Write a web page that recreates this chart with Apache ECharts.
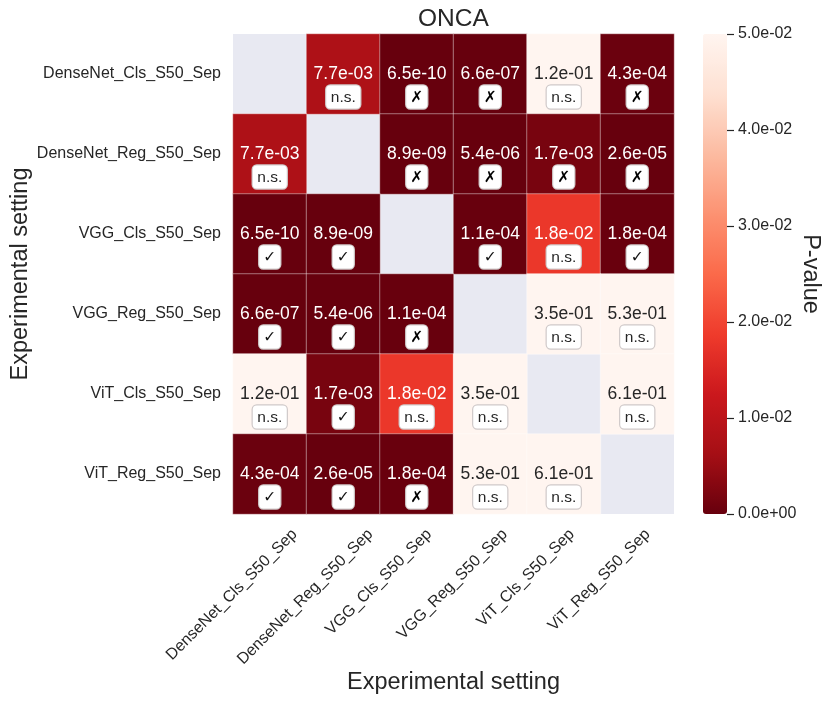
<!DOCTYPE html>
<html><head><meta charset="utf-8">
<style>html,body{margin:0;padding:0;background:#fff}#c{width:830px;height:703px}</style>
<script src="https://cdn.jsdelivr.net/npm/echarts@6/dist/echarts.min.js"></script>
</head><body><div id="c"></div>
<script>
const settings = ['DenseNet_Cls_S50_Sep','DenseNet_Reg_S50_Sep','VGG_Cls_S50_Sep','VGG_Reg_S50_Sep','ViT_Cls_S50_Sep','ViT_Reg_S50_Sep'];
const pValues = [
  [null,7.7e-3,6.5e-10,6.6e-7,1.2e-1,4.3e-4],
  [7.7e-3,null,8.9e-9,5.4e-6,1.7e-3,2.6e-5],
  [6.5e-10,8.9e-9,null,1.1e-4,1.8e-2,1.8e-4],
  [6.6e-7,5.4e-6,1.1e-4,null,3.5e-1,5.3e-1],
  [1.2e-1,1.7e-3,1.8e-2,3.5e-1,null,6.1e-1],
  [4.3e-4,2.6e-5,1.8e-4,5.3e-1,6.1e-1,null]
];
const verdicts = [
  ['','n.s.','✗','✗','n.s.','✗'],
  ['n.s.','','✗','✗','✗','✗'],
  ['✓','✓','','✓','n.s.','✓'],
  ['✓','✓','✗','','n.s.','n.s.'],
  ['n.s.','✓','n.s.','n.s.','','n.s.'],
  ['✓','✓','✗','n.s.','n.s.','']
];
const reds = ['#67000d','#a50f15','#cb181d','#ef3b2c','#fb6a4a','#fc9272','#fcbba1','#fee0d2','#fff5f0'];
const ink = '#262626', font = '"Liberation Sans", Arial, sans-serif';
const fmt = v => { const [m,e] = v.toExponential(1).split('e'); return m+'e'+e[0]+e.slice(1).padStart(2,'0'); };
const badge = {backgroundColor:'#fff',borderColor:'#cfc9c9',borderWidth:1.2,borderRadius:4,fontSize:15.5,color:ink,align:'center'};
const data = [];
pValues.forEach((row,r)=>row.forEach((v,c)=>{
  if(v===null) return;
  const col = v>0.025 ? ink : '#fff';
  const sym = verdicts[r][c]==='n.s.' ? 'ns' : (verdicts[r][c]==='✗' ? 'cross' : 'check');
  data.push({value:[c,r,v],label:{formatter:`{v|${fmt(v)}}\n{${sym}|${verdicts[r][c]}}`,offset:[0,12],rich:{
    v:{fontSize:17.5,color:col,fontFamily:font,lineHeight:22,align:'center'},
    ns:{...badge,fontFamily:font,padding:[4,4,3,4],width:26,height:16},
    check:{...badge,color:'#111',fontFamily:'"DejaVu Sans"',padding:[4,3,3,3],width:15,height:16},
    cross:{...badge,color:'#000',fontWeight:'bold',fontFamily:'"DejaVu Sans"',padding:[4,3,3,3],width:15,height:16}
  }}});
}));
// The rotated tick labels are centred on a point left of each cell and share a common top edge.
const ctx = document.createElement('canvas').getContext('2d');
ctx.font = '16px "Liberation Sans"';
const xLabelItems = settings.map(s=>{
  const ox = -38 + 0.354*(ctx.measureText(s).width+9);
  const a = (ox-2.5)/1.414;
  return {value:s,textStyle:{verticalAlign:'top',padding:[a-9,-a,0,0]}};
});
const chart = echarts.init(document.getElementById('c'),null,{renderer:'canvas'});
chart.setOption({
  animation:false,backgroundColor:'#fff',
  title:{text:'ONCA',left:413,top:2,textStyle:{fontFamily:font,fontSize:24.5,fontWeight:'normal',color:ink}},
  grid:[
    {left:233,top:34,width:441,height:480,show:true,backgroundColor:'#e8e9f2',borderWidth:0,outerBoundsMode:'none'},
    {left:703,top:34,width:24,height:480,show:false,outerBoundsMode:'none'}
  ],
  xAxis:[
    {type:'category',gridIndex:0,data:xLabelItems,axisLine:{show:false},axisTick:{show:false},splitLine:{show:false},
     name:'Experimental setting',nameLocation:'middle',nameGap:157,nameMoveOverlap:false,nameTextStyle:{fontFamily:font,fontSize:23.5,color:ink},
     axisLabel:{rotate:45,interval:0,hideOverlap:false,align:'right',verticalAlign:'middle',margin:18.5,fontFamily:font,fontSize:16,color:ink}},
    {type:'value',gridIndex:1,show:false,min:0,max:1}
  ],
  yAxis:[
    {type:'category',gridIndex:0,inverse:true,data:settings,axisLine:{show:false},axisTick:{show:false},splitLine:{show:false},
     name:'Experimental setting',nameLocation:'middle',nameGap:200,nameMoveOverlap:false,nameTextStyle:{fontFamily:font,fontSize:23.5,color:ink},
     axisLabel:{interval:0,margin:12,fontFamily:font,fontSize:16,color:ink}},
    {type:'value',gridIndex:1,position:'right',min:0,max:0.05,interval:0.01,
     axisLine:{show:false,onZero:false},axisTick:{show:true,length:7,lineStyle:{color:ink,width:1.2}},splitLine:{show:false},
     axisLabel:{formatter:v=>fmt(v),margin:11,fontFamily:font,fontSize:16,color:ink},
     name:'P-value',nameLocation:'middle',nameRotate:-90,nameGap:71,nameMoveOverlap:false,nameTextStyle:{fontFamily:font,fontSize:23.5,color:ink}}
  ],
  visualMap:{type:'continuous',seriesIndex:0,min:0,max:0.05,calculable:false,realtime:false,showLabel:false,text:null,
    left:703,top:34,itemWidth:24,itemHeight:480,padding:0,hoverLink:false,
    inRange:{color:reds},outOfRange:{color:'#fff5f0'}},
  series:[
    {type:'heatmap',xAxisIndex:0,yAxisIndex:0,data:data,
     itemStyle:{borderColor:'rgba(255,255,255,0.5)',borderWidth:0.8},
     label:{show:true}},
    {type:'scatter',xAxisIndex:1,yAxisIndex:1,data:[],silent:true}
  ]
});
</script></body></html>
